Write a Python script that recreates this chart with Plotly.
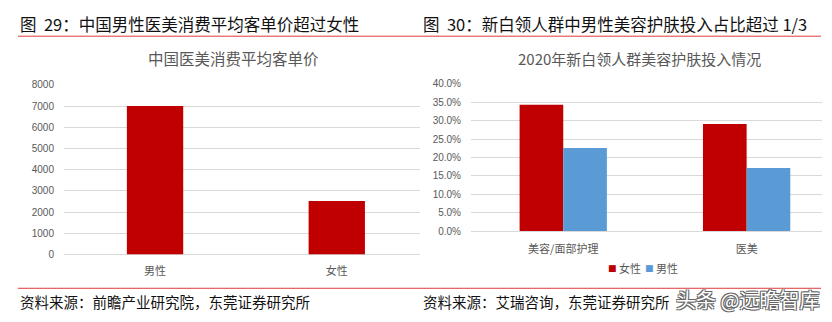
import plotly.graph_objects as go

W, H = 832, 322

# ---- data ----
left_categories = ["男性", "女性"]
left_values = [7000, 2520]
left_ticks = [0, 1000, 2000, 3000, 4000, 5000, 6000, 7000, 8000]

right_categories = ["美容/面部护理", "医美"]
right_female = [0.343, 0.291]
right_male = [0.226, 0.171]
right_ticks = [0, 0.05, 0.10, 0.15, 0.20, 0.25, 0.30, 0.35, 0.40]
series_names = ["女性", "男性"]

header_left = "图  29：中国男性医美消费平均客单价超过女性"
header_right = "图  30：新白领人群中男性美容护肤投入占比超过 1/3"
title_left = "中国医美消费平均客单价"
title_right = "2020年新白领人群美容护肤投入情况"
source_left = "资料来源：前瞻产业研究院，东莞证券研究所"
source_right = "资料来源：艾瑞咨询，东莞证券研究所"
watermark = "头条 @远瞻智库"

RED = "#C00000"
BLUE = "#5B9BD5"
GRID = "#D9D9D9"
TXT = "#595959"
FONT = "Liberation Sans, Noto Sans CJK SC, sans-serif"
CJK = "Noto Sans CJK SC, sans-serif"

def px_x(x):
    return x / W

def px_y(y):
    return 1 - y / H

fig = go.Figure()

# left bars
fig.add_trace(go.Bar(x=left_categories, y=left_values, marker_color=RED,
                     width=0.31, xaxis="x", yaxis="y", showlegend=False,
                     marker_line_width=0))

# right bars
fig.add_trace(go.Bar(x=right_categories, y=right_female, marker_color=RED,
                     width=0.238, offset=-0.238, xaxis="x2", yaxis="y2",
                     name=series_names[0], showlegend=False, marker_line_width=0))
fig.add_trace(go.Bar(x=right_categories, y=right_male, marker_color=BLUE,
                     width=0.238, offset=0, xaxis="x2", yaxis="y2",
                     name=series_names[1], showlegend=False, marker_line_width=0))

fig.update_layout(
    width=W, height=H, margin=dict(l=0, r=0, t=0, b=0),
    paper_bgcolor="white", plot_bgcolor="white",
    font=dict(family=FONT, color=TXT, size=10),
    barmode="group", showlegend=False,
    xaxis=dict(domain=[px_x(64), px_x(420)], range=[-0.501, 1.458],
               showgrid=False, showline=False, ticks="",
               tickfont=dict(family=CJK, size=11, color=TXT),
               ticklabelstandoff=9, fixedrange=True),
    yaxis=dict(domain=[px_y(258.3), px_y(82.7)], range=[0, 8000],
               tickvals=left_ticks, showgrid=True, gridcolor=GRID, gridwidth=1,
               zeroline=True, zerolinecolor=GRID, zerolinewidth=1,
               showline=False, ticks="", tickfont=dict(size=10, color=TXT),
               ticklabelstandoff=9, anchor="x"),
    xaxis2=dict(domain=[px_x(471), px_x(822)], range=[-0.503, 1.411],
                showgrid=False, showline=False, ticks="", anchor="y2",
                tickfont=dict(family=CJK, size=11, color=TXT),
                ticklabelstandoff=10),
    yaxis2=dict(domain=[px_y(234), px_y(81.7)], range=[0, 0.4],
                tickvals=right_ticks, tickformat=".1%", showgrid=True,
                gridcolor=GRID, gridwidth=1, zeroline=True, zerolinecolor=GRID,
                zerolinewidth=1, showline=False, ticks="",
                tickfont=dict(size=10, color=TXT), ticklabelstandoff=9,
                anchor="x2"),
)

# separator lines
fig.add_shape(type="line", xref="paper", yref="paper",
              x0=px_x(18), x1=px_x(821), y0=px_y(32.3), y1=px_y(32.3),
              line=dict(color="#E03A3A", width=1))
fig.add_shape(type="line", xref="paper", yref="paper",
              x0=px_x(18), x1=px_x(821), y0=px_y(293.3), y1=px_y(293.3),
              line=dict(color="#E03A3A", width=1))

annos = [
    dict(text=header_left, x=px_x(18), y=px_y(19.7), xanchor="left",
         font=dict(family=CJK, size=16.5, color="#111111")),
    dict(text=header_right, x=px_x(421), y=px_y(19.7), xanchor="left",
         font=dict(family=CJK, size=16.5, color="#111111")),
    dict(text=title_left, x=px_x(233), y=px_y(55), xanchor="center",
         font=dict(family=CJK, size=15.5, color=TXT)),
    dict(text=title_right, x=px_x(639), y=px_y(55), xanchor="center",
         font=dict(family=CJK, size=15, color=TXT)),
    dict(text=source_left, x=px_x(18), y=px_y(307), xanchor="left",
         font=dict(family=CJK, size=14.5, color="#111111")),
    dict(text=source_right, x=px_x(421), y=px_y(307), xanchor="left",
         font=dict(family=CJK, size=14.5, color="#111111")),
    dict(text=watermark, x=px_x(821), y=px_y(305), xanchor="right",
         font=dict(family=CJK, size=20, color="white",
                   shadow="-1px -1px 0 #666, 1px -1px 0 #666, -1px 1px 0 #666, 1px 1px 0 #666")),
]

# legend (keys as small squares + labels)
legend_colors = [RED, BLUE]
legend_sq_x = [612.5, 649.5]
for name, col, sx in zip(series_names, legend_colors, legend_sq_x):
    annos.append(dict(text="■", x=px_x(sx), y=px_y(272.5), xanchor="center",
                      font=dict(family="DejaVu Sans", size=9, color=col)))
    annos.append(dict(text=name, x=px_x(sx + 4.5), y=px_y(272), xanchor="left",
                      font=dict(family=CJK, size=11, color=TXT)))

for a in annos:
    a.update(xref="paper", yref="paper", yanchor="middle", showarrow=False)
    fig.add_annotation(**a)

fig.write_html("out.html")
